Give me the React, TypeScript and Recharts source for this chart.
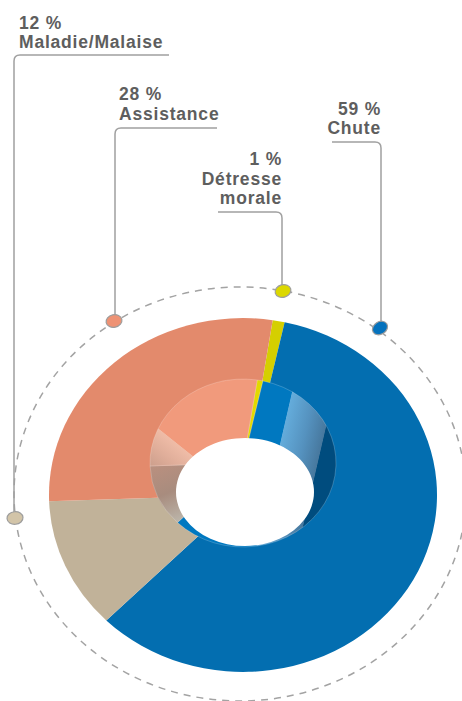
import React from 'react';
import { PieChart, Pie, Cell, Sector } from 'recharts';

// clockwise order, starting with the small yellow slice near the top
const categories = ['Détresse morale', 'Chute', 'Maladie/Malaise', 'Assistance'];
const percentages = [1, 59, 12, 28];
const percentLabels = ['1 %', '59 %', '12 %', '28 %'];
const labelLines = [['Détresse', 'morale'], ['Chute'], ['Maladie/Malaise'], ['Assistance']];

const outerColors = ['#d5cf00', '#036eb0', '#c1b299', '#e38a6c'];
const wallColors = ['#e2d900', 'url(#wallBlue)', 'url(#wallTan)', 'url(#wallOrange)'];
const dotColors = ['#dcd800', '#0572bd', '#d2c4a8', '#ee9274'];

const data = categories.map((name, i) => ({ name, value: percentages[i] }));

const START = 81.2;
const FONT = "'Liberation Sans', Arial, sans-serif";
const FONT_SIZE = 17.5;
const LH = 19.6;
const TEXT = '#5e5e5e';
const LINE = '#a0a0a0';

// callout layout (annotation only): dot on the dashed ring, leader elbow, text block
const callouts = [
  { dot: [283, 291], rot: -15, lineY: 212, lineX: 218, vx: 282, anchor: 'end', tx: 282, ty: 165 },
  { dot: [380, 328], rot: -32, lineY: 142, lineX: 332, vx: 381, anchor: 'end', tx: 381, ty: 114.5 },
  { dot: [15, 518], rot: -5, lineY: 55, lineX: 169, vx: 14, anchor: 'start', tx: 19, ty: 28.7 },
  { dot: [114, 321], rot: -12, lineY: 128, lineX: 217, vx: 115, anchor: 'start', tx: 119, ty: 100 },
];

const squash = (ratio: number) => (props: any) => {
  const { cx, cy } = props;
  return (
    <g transform={`translate(0 ${cy}) scale(1 ${ratio}) translate(0 ${-cy})`}>
      <Sector {...props} cx={cx} cy={cy} />
    </g>
  );
};

const dashedRing = (props: any) => (
  <ellipse
    cx={props.cx}
    cy={props.cy}
    rx={props.outerRadius}
    ry={props.outerRadius * 0.916}
    fill="none"
    stroke="#a3a3a3"
    strokeWidth={1.5}
    strokeDasharray="7 6"
  />
);

const outerShape = squash(0.912);
const wallShape = squash(0.903);
const holeShape = squash(0.783);

const leaderPath = (c: any) => {
  const r = 6;
  const dir = c.lineX > c.vx ? 1 : -1;
  return `M ${c.lineX} ${c.lineY} H ${c.vx + dir * r} Q ${c.vx} ${c.lineY} ${c.vx} ${c.lineY + r} V ${c.dot[1] - 5}`;
};

const App: React.FC = () => {
  return (
    <div style={{ position: 'absolute', left: 0, top: 0, width: 462, height: 701, background: '#fff' }}>
      <PieChart width={462} height={701} margin={{ top: 0, right: 0, bottom: 0, left: 0 }}>
        <defs>
          <linearGradient id="wallBlue" gradientUnits="userSpaceOnUse" x1={262} y1={440} x2={334} y2={455}>
            <stop offset="0" stopColor="#0078c0" />
            <stop offset="0.24" stopColor="#0078c0" />
            <stop offset="0.25" stopColor="#64acdb" />
            <stop offset="0.55" stopColor="#5592bf" />
            <stop offset="0.8" stopColor="#47789e" />
            <stop offset="0.81" stopColor="#004c7e" />
            <stop offset="1" stopColor="#004c7e" />
          </linearGradient>
          <linearGradient id="wallOrange" gradientUnits="userSpaceOnUse" x1={150} y1={492} x2={196} y2={440}>
            <stop offset="0" stopColor="#b88f7e" />
            <stop offset="0.55" stopColor="#e0ae9a" />
            <stop offset="0.8" stopColor="#efbca7" />
            <stop offset="0.81" stopColor="#f19a7c" />
            <stop offset="1" stopColor="#f19a7c" />
          </linearGradient>
          <linearGradient id="wallTan" gradientUnits="userSpaceOnUse" x1={150} y1={465} x2={180} y2={530}>
            <stop offset="0" stopColor="#bb907f" />
            <stop offset="0.5" stopColor="#a88c7e" />
            <stop offset="1" stopColor="#bdb8ad" />
          </linearGradient>
        </defs>

        <Pie
          data={[{ value: 1 }]}
          dataKey="value"
          cx={240}
          cy={494}
          outerRadius={226}
          innerRadius={0}
          startAngle={90}
          endAngle={-270}
          shape={dashedRing}
          inactiveShape={dashedRing}
          activeShape={dashedRing}
          isAnimationActive={false}
        />

        <Pie
          data={data}
          dataKey="value"
          cx={243}
          cy={495}
          outerRadius={194}
          innerRadius={0}
          startAngle={START}
          endAngle={START - 360}
          stroke="none"
          shape={outerShape}
          inactiveShape={outerShape}
          activeShape={outerShape}
          isAnimationActive={false}
        >
          {data.map((d, i) => (
            <Cell key={d.name} fill={outerColors[i]} />
          ))}
        </Pie>

        <Pie
          data={data}
          dataKey="value"
          cx={243}
          cy={463}
          outerRadius={93}
          innerRadius={0}
          startAngle={START}
          endAngle={START - 360}
          stroke="rgba(255,255,255,0.35)"
          strokeWidth={0.6}
          shape={wallShape}
          inactiveShape={wallShape}
          activeShape={wallShape}
          isAnimationActive={false}
        >
          {data.map((d, i) => (
            <Cell key={d.name} fill={wallColors[i]} />
          ))}
        </Pie>

        <Pie
          data={[{ value: 1 }]}
          dataKey="value"
          cx={245}
          cy={492}
          outerRadius={69}
          innerRadius={0}
          startAngle={90}
          endAngle={-270}
          fill="#ffffff"
          stroke="none"
          shape={holeShape}
          inactiveShape={holeShape}
          activeShape={holeShape}
          isAnimationActive={false}
        />
      </PieChart>

      <svg
        width={462}
        height={701}
        style={{ position: 'absolute', left: 0, top: 0, pointerEvents: 'none' }}
      >
        {callouts.map((c, i) => (
          <g key={categories[i]}>
            <path d={leaderPath(c)} fill="none" stroke={LINE} strokeWidth={1.5} />
            <ellipse
              cx={c.dot[0]}
              cy={c.dot[1]}
              rx={8}
              ry={6.3}
              fill={dotColors[i]}
              stroke="#9d9d9d"
              strokeWidth={1.2}
              transform={`rotate(${c.rot} ${c.dot[0]} ${c.dot[1]})`}
            />
            <text
              x={c.tx}
              y={c.ty}
              textAnchor={c.anchor as any}
              fill={TEXT}
              fontFamily={FONT}
              fontWeight="bold"
              fontSize={FONT_SIZE}
              letterSpacing={0.8}
            >
              <tspan x={c.tx} y={c.ty}>{percentLabels[i]}</tspan>
              {labelLines[i].map((line, j) => (
                <tspan key={line} x={c.tx} y={c.ty + (j + 1) * LH}>
                  {line}
                </tspan>
              ))}
            </text>
          </g>
        ))}
      </svg>
    </div>
  );
};

export default App;
